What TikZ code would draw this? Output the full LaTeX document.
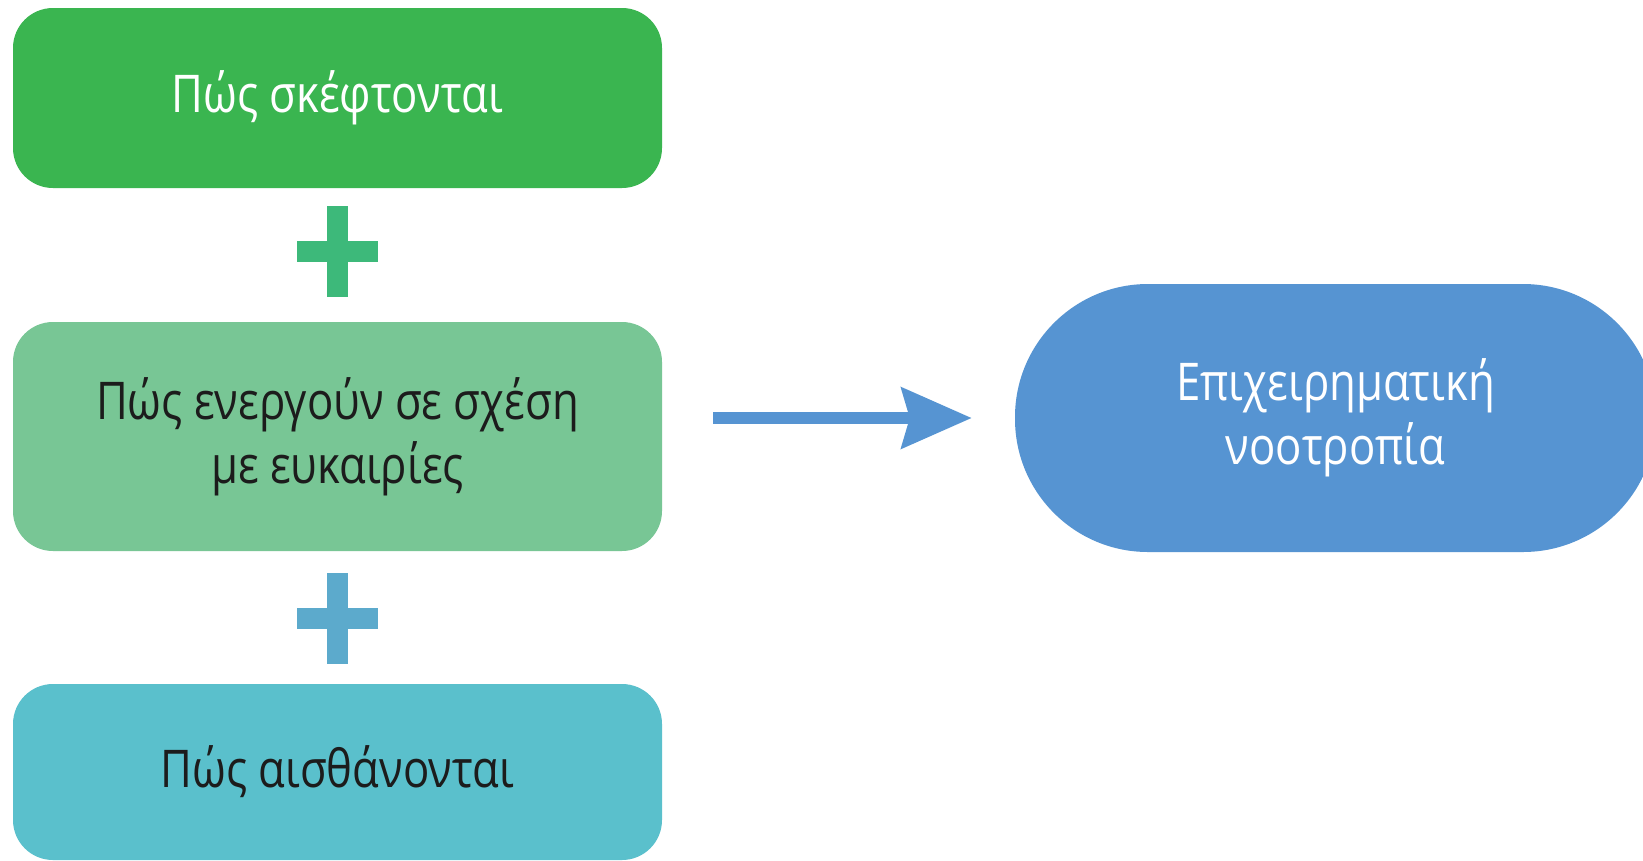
\documentclass[tikz,border=0pt]{standalone}
\usepackage{fontspec}
\setmainfont{Open Sans}[FakeStretch=0.84]
\usetikzlibrary{arrows.meta}
\definecolor{gA}{RGB}{58,181,80}
\definecolor{gP}{RGB}{61,185,122}
\definecolor{gB}{RGB}{120,198,149}
\definecolor{bP}{RGB}{92,170,204}
\definecolor{cC}{RGB}{90,192,204}
\definecolor{bl}{RGB}{86,148,210}
\definecolor{txt}{RGB}{28,28,28}
\tikzset{
  boxstyle/.style={rectangle, rounded corners=40pt, minimum width=649pt, inner sep=0pt, align=center,
    font=\fontsize{52}{64}\selectfont},
  pillstyle/.style={rectangle, rounded corners=133pt, minimum width=641pt, minimum height=268pt, inner sep=0pt,
    align=center, fill=bl, text=white, font=\fontsize{52}{64}\selectfont},
  flowarrow/.style={draw=bl, line width=12pt, -{Stealth[length=70pt,width=60pt,inset=8pt]}, shorten <=51pt, shorten >=43pt}
}
\begin{document}
\begin{tikzpicture}[x=1pt,y=-1pt]
\fill[white] (0,0) rectangle (1643,860);
\useasboundingbox (0,0) rectangle (1643,860);
\node[boxstyle, fill=gA, text=white, minimum height=180pt] (b1) at (337.5,98) {Πώς σκέφτονται};
\node[boxstyle, fill=gB, text=txt, minimum height=229pt] (b2) at (337.5,436.5) {Πώς ενεργούν σε σχέση\\με ευκαιρίες};
\node[boxstyle, fill=cC, text=txt, minimum height=176pt] (b3) at (337.5,772) {Πώς αισθάνονται};
\node[pillstyle] (p) at (1335.5,418) {Επιχειρηματική\\νοοτροπία};
% plus signs
\coordinate (c1) at (337,251);
\coordinate (c2) at (337,618);
\fill[gP] ([xshift=-40.5pt,yshift=-10.5pt]c1) rectangle ([xshift=40.5pt,yshift=10.5pt]c1);
\fill[gP] ([xshift=-10.5pt,yshift=-45.5pt]c1) rectangle ([xshift=10.5pt,yshift=45.5pt]c1);
\fill[bP] ([xshift=-40.5pt,yshift=-10.5pt]c2) rectangle ([xshift=40.5pt,yshift=10.5pt]c2);
\fill[bP] ([xshift=-10.5pt,yshift=-45.5pt]c2) rectangle ([xshift=10.5pt,yshift=45.5pt]c2);
\draw[flowarrow] (b2.east |- p.west) -- (p.west);
\end{tikzpicture}
\end{document}
